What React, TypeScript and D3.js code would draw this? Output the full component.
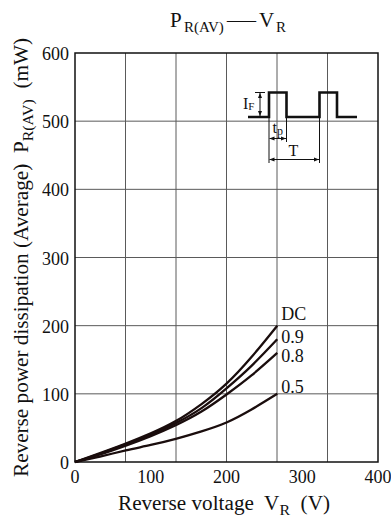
import React from "react";
import * as d3 from "d3";

const voltages = [0, 33, 67, 100, 133, 167, 200, 233, 267];
const seriesDC = [0, 13, 27, 42, 60, 85, 115, 154, 200];
const series09 = [0, 12, 26, 40, 57, 79, 108, 141, 180];
const series08 = [0, 11, 24, 38, 54, 74, 99, 127, 160];
const series05 = [0, 8, 17, 25, 34, 45, 58, 77, 100];
const seriesLabels = ["DC", "0.9", "0.8", "0.5"];
const xTicks = [0, 100, 200, 300, 400];
const yTicks = [0, 100, 200, 300, 400, 500, 600];
const xGrid = [400 / 6, 800 / 6, 200, 1600 / 6, 2000 / 6];

const W = 391, H = 524;
const L = 75, R = 378, T = 53, B = 462;
const font = "'Liberation Serif', 'Times New Roman', serif";

export default function App() {
  const x = d3.scaleLinear().domain([0, 400]).range([L, R]);
  const y = d3.scaleLinear().domain([0, 600]).range([B, T]);
  const line = d3
    .line<number>()
    .x((_, i) => x(voltages[i]))
    .y((d) => y(d))
    .curve(d3.curveNatural);
  const all = [seriesDC, series09, series08, series05];
  const last = voltages.length - 1;
  const labelBaseline = [320, 343, 362, 393];
  const gridColor = "#5a5a5a";
  const ink = "#111";
  return (
    <svg width={W} height={H} style={{ position: "absolute", left: 0, top: 0, background: "#fff" }} fontFamily={font}>
      <rect x={0} y={0} width={W} height={H} fill="#fff" />
      {/* grid */}
      {xGrid.map((v, i) => (
        <line key={"xg" + i} x1={x(v)} x2={x(v)} y1={T} y2={B} stroke={gridColor} strokeWidth={1} />
      ))}
      {yTicks.slice(1, -1).map((v) => (
        <line key={"yg" + v} x1={L} x2={R} y1={y(v)} y2={y(v)} stroke={gridColor} strokeWidth={1} />
      ))}
      <rect x={L} y={T} width={R - L} height={B - T} fill="none" stroke={ink} strokeWidth={1.5} />
      {/* curves */}
      {all.map((s, i) => (
        <path key={"c" + i} d={line(s) || ""} fill="none" stroke="#1a0d0d" strokeWidth={2.3} />
      ))}
      {seriesLabels.map((lab, i) => (
        <text key={"l" + i} x={x(voltages[last]) + 4} y={labelBaseline[i]} fontSize={18} fill={ink}>
          {lab}
        </text>
      ))}
      {/* ticks */}
      {xTicks.map((v) => (
        <text key={"xt" + v} x={x(v)} y={B + 20.5} textAnchor="middle" fontSize={18} fill={ink}>
          {v}
        </text>
      ))}
      {yTicks.map((v) => (
        <text key={"yt" + v} x={L - 6} y={y(v) + 7} textAnchor="end" fontSize={18} fill={ink}>
          {v}
        </text>
      ))}
      {/* title */}
      <text y={27.3} fontSize={21} fill={ink}>
        <tspan x={170}>P</tspan>
        <tspan x={184} dy={5} fontSize={15}>R(AV)</tspan>
        <tspan x={227} dy={-5} fontSize={21} textLength={29} lengthAdjust="spacingAndGlyphs">—</tspan>
        <tspan x={259}>V</tspan>
        <tspan x={276} dy={5} fontSize={15}>R</tspan>
      </text>
      {/* x label */}
      <text
        x={118}
        y={510}
        fontSize={20}
        fill={ink}
        xmlSpace="preserve"
        textLength={212}
        lengthAdjust="spacingAndGlyphs"
      >
        Reverse voltage  V<tspan fontSize={15} dy={5}>R</tspan>
        <tspan dy={-5}>  (V)</tspan>
      </text>
      {/* y label */}
      <text
        transform={`translate(28, 477) rotate(-90)`}
        fontSize={20}
        fill={ink}
        xmlSpace="preserve"
        textLength={439}
        lengthAdjust="spacingAndGlyphs"
      >
        Reverse power dissipation (Average)  P<tspan fontSize={15} dy={5}>R(AV)</tspan>
        <tspan dy={-5}>  (mW)</tspan>
      </text>
      {/* inset waveform */}
      <path
        d="M248,117 H269 V92.5 H286.5 V117 H319.5 V92.5 H337 V117 H357"
        fill="none"
        stroke={ink}
        strokeWidth={2.6}
      />
      <line x1={255} x2={265} y1={92.5} y2={92.5} stroke={ink} strokeWidth={1} />
      <line x1={260} x2={260} y1={93} y2={116} stroke={ink} strokeWidth={1} markerStart="url(#ah)" markerEnd="url(#ah)" />
      <text x={243} y={108.5} fontSize={16} fill={ink}>
        I<tspan fontSize={11} dy={1}>F</tspan>
      </text>
      <line x1={269} x2={269} y1={117} y2={163} stroke={ink} strokeWidth={1} />
      <line x1={286.5} x2={286.5} y1={117} y2={142} stroke={ink} strokeWidth={1} />
      <line x1={319.5} x2={319.5} y1={117} y2={163} stroke={ink} strokeWidth={1} />
      <line x1={269.5} x2={286} y1={138.5} y2={138.5} stroke={ink} strokeWidth={1} markerStart="url(#ah)" markerEnd="url(#ah)" />
      <line x1={269.5} x2={319} y1={159.5} y2={159.5} stroke={ink} strokeWidth={1} markerStart="url(#ah)" markerEnd="url(#ah)" />
      <text x={272.5} y={132.5} fontSize={16} fill={ink}>
        t<tspan fontSize={12} dy={2}>p</tspan>
      </text>
      <text x={293.5} y={156} textAnchor="middle" fontSize={16} fill={ink}>
        T
      </text>
      <defs>
        <marker id="ah" viewBox="0 0 10 10" refX={10} refY={5} markerWidth={5} markerHeight={5} orient="auto-start-reverse">
          <path d="M0,1 L10,5 L0,9 z" fill={ink} />
        </marker>
      </defs>
    </svg>
  );
}
